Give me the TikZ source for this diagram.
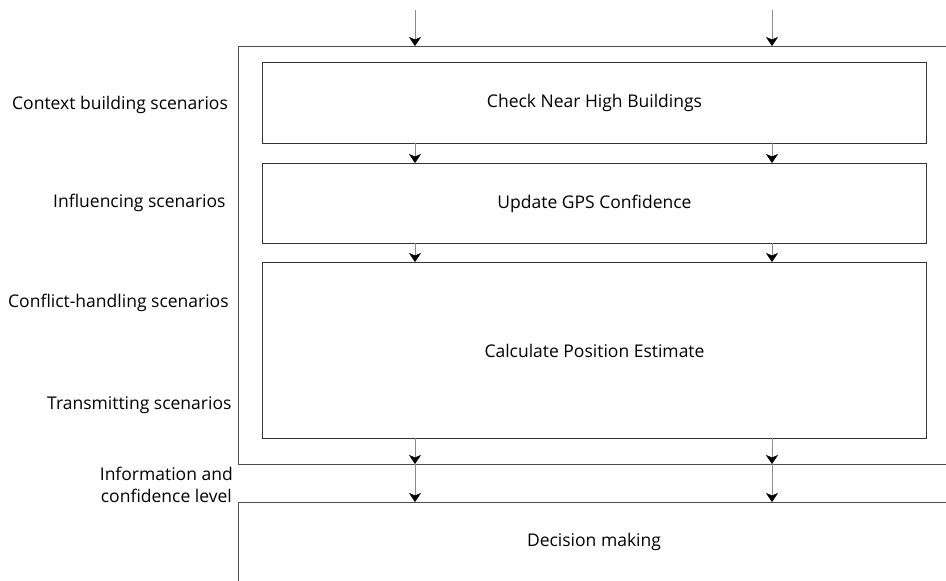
\documentclass[tikz,border=0pt]{standalone}
\usepackage{fontspec}
\setmainfont{Open Sans}
\usetikzlibrary{arrows.meta}
\begin{document}
\begin{tikzpicture}[x=1pt,y=-1pt,
  frame/.style={draw=black!70,line width=1pt},
  stage/.style={draw=black!80,line width=1pt,fill=white},
  flow/.style={draw=black!45,line width=0.8pt,
    -{Stealth[length=9pt,width=12pt,inset=2.5pt,line width=0.5pt,color=black,fill=black]}},
  side/.style={font=\fontsize{17.5}{21}\selectfont,anchor=base west,inner sep=0pt},
  title/.style={font=\fontsize{17.5}{21}\selectfont,inner sep=0pt}]
\useasboundingbox (0,0) rectangle (946,581);
% outer frame, open to the right
\draw[frame] (946,46) -- (238,46) -- (238,464) -- (946,464);
% decision block, open to the right and below
\draw[frame] (946,502) -- (238,502) -- (238,581);
% stages
\node[stage,minimum width=664pt,minimum height=81pt,anchor=north west] (b1) at (262,62) {};
\node[stage,minimum width=664pt,minimum height=80pt,anchor=north west] (b2) at (262,163) {};
\node[stage,minimum width=664pt,minimum height=176pt,anchor=north west] (b3) at (262,262) {};
\node[title] at (b1.center) {Check Near High Buildings};
\node[title] at (b2.center) {Update GPS Confidence};
\node[title] at (b3.center) {Calculate Position Estimate};
\node[title] (dm) at (594,542) {Decision making};
% arrow anchor points
\foreach \n/\x in {l/415,r/772}{
  \coordinate (t\n) at (\x,10);
  \coordinate (f\n) at (\x,46);
  \coordinate (a\n) at (\x,143);
  \coordinate (b\n) at (\x,163);
  \coordinate (c\n) at (\x,243);
  \coordinate (d\n) at (\x,262);
  \coordinate (e\n) at (\x,438);
  \coordinate (g\n) at (\x,464);
  \coordinate (h\n) at (\x,502);
  \draw[flow] (t\n) -- (f\n);
  \draw[flow] (a\n) -- (b\n);
  \draw[flow] (c\n) -- (d\n);
  \draw[flow] (e\n) -- (g\n);
  \draw[flow] (g\n) -- (h\n);
}
% side labels
\node[side] (s1) at (12,109) {Context building scenarios};
\node[side] (s2) at (53,207) {Influencing scenarios};
\node[side] (s3) at (8,307) {Conflict-handling scenarios};
\node[side] (s4) at (47,409) {Transmitting scenarios};
\node[font=\fontsize{17.5}{22}\selectfont,align=center,inner sep=0pt,anchor=east] (s5) at (233,485) {Information and\\confidence level};
\end{tikzpicture}
\end{document}
